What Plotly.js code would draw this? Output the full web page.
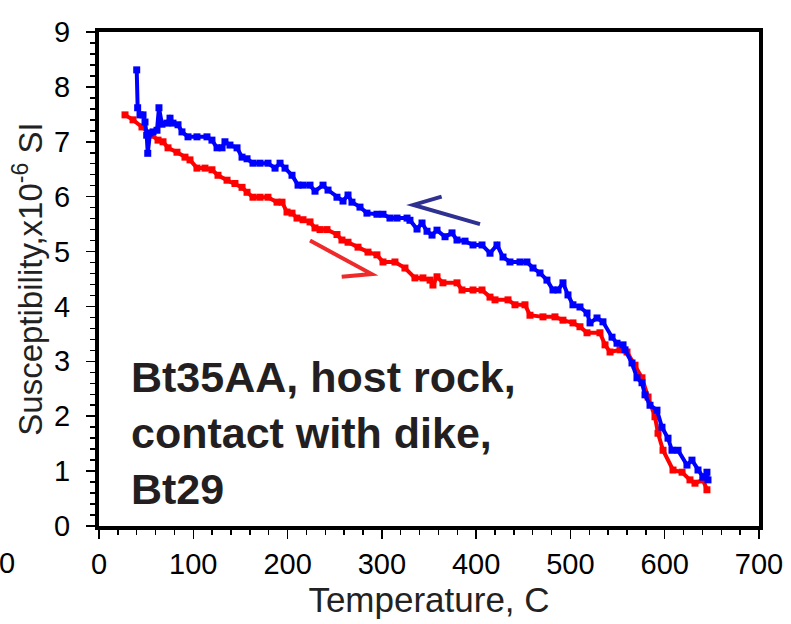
<!DOCTYPE html>
<html>
<head>
<meta charset="utf-8">
<script src="https://cdn.plot.ly/plotly-3.0.1.min.js"></script>
<style>html,body{margin:0;padding:0;background:#fff;}#chart{width:791px;height:624px;}</style>
</head>
<body>
<div id="chart"></div>
<script>
// Heating curve (red)
const heatT = [27.6,36.1,45.6,56.2,62.6,67.9,73.2,82.7,91.2,96.5,103.9,112.4,119.8,126.2,135.8,144.2,151.7,157.0,163.3,170.8,179.2,188.8,194.1,199.4,204.7,210.0,216.4,223.8,229.1,234.4,241.8,252.4,257.7,264.1,274.7,285.3,294.8,301.2,313.9,324.5,335.1,343.6,351.1,354.2,358.5,364.8,379.7,385.0,396.7,406.2,414.7,420.0,433.8,441.2,451.8,457.1,470.9,483.6,492.1,502.7,510.1,517.6,531.3,536.7,542.0,552.6,560.0,568.5,575.9,582.3,589.7,592.9,598.2,608.8,618.4,626.8,632.1,640.6,644.8];
const heatS = [7.49,7.40,7.27,7.12,7.03,7.00,6.89,6.81,6.72,6.67,6.52,6.52,6.49,6.39,6.30,6.24,6.17,6.08,5.99,5.99,5.99,5.90,5.90,5.72,5.70,5.61,5.58,5.54,5.43,5.40,5.40,5.31,5.21,5.17,5.08,4.99,4.94,4.81,4.81,4.70,4.52,4.52,4.48,4.39,4.54,4.43,4.43,4.30,4.30,4.30,4.17,4.12,4.12,4.03,4.03,3.84,3.81,3.81,3.75,3.70,3.63,3.52,3.52,3.30,3.17,3.21,3.17,2.93,2.70,2.35,1.99,1.69,1.38,1.02,0.98,0.84,0.78,0.84,0.66];
// Cooling curve (blue)
const coolT = [40.0,41.0,43.5,46.7,48.8,50.6,51.7,54.1,57.3,61.5,63.6,66.8,72.1,75.3,78.5,83.8,88.0,94.4,103.9,114.5,119.8,125.2,130.5,133.6,138.9,146.4,151.7,157.0,163.3,170.8,179.2,186.7,192.0,197.3,204.7,211.1,216.4,223.8,229.1,237.6,242.9,252.4,258.8,264.1,268.3,276.8,284.2,294.8,301.2,308.6,316.1,326.7,329.8,337.3,342.6,347.9,353.2,358.5,367.0,374.4,379.7,388.2,396.7,406.2,414.7,422.1,428.5,435.9,446.5,453.9,460.3,467.7,475.1,481.5,486.8,492.1,497.4,502.7,510.1,517.6,520.8,528.2,534.5,544.1,549.4,555.8,557.9,565.3,570.6,575.9,579.1,584.4,591.8,597.1,603.5,607.7,614.1,623.6,628.9,635.3,640.6,644.8,645.9];
const coolS = [8.31,7.62,7.49,7.49,7.36,7.12,6.79,7.16,7.18,7.21,7.62,7.32,7.34,7.43,7.34,7.31,7.18,7.09,7.09,7.09,7.03,6.89,6.89,7.00,6.94,6.89,6.72,6.69,6.61,6.61,6.61,6.52,6.61,6.52,6.39,6.21,6.21,6.21,6.10,6.21,6.12,5.99,5.92,6.03,5.90,5.81,5.70,5.68,5.68,5.61,5.61,5.61,5.57,5.41,5.52,5.37,5.30,5.39,5.27,5.34,5.21,5.19,5.12,5.12,4.97,5.12,4.90,4.81,4.81,4.81,4.70,4.61,4.48,4.30,4.30,4.43,4.21,4.03,3.99,3.88,3.70,3.79,3.72,3.44,3.33,3.30,3.21,2.97,2.70,2.61,2.39,2.20,2.11,1.80,1.60,1.38,1.38,1.11,1.20,1.02,0.89,0.98,0.84];

const xTickVals = [0,100,200,300,400,500,600,700];
const yTickVals = [0,1,2,3,4,5,6,7,8,9];

const FONT = "'Liberation Sans', Arial, sans-serif";

const traces = [
  {x: heatT, y: heatS, mode: 'lines+markers', type: 'scatter', name: 'heating',
   line: {color: '#FF0000', width: 4}, marker: {symbol: 'square', size: 7, color: '#FF0000'}},
  {x: coolT, y: coolS, mode: 'lines+markers', type: 'scatter', name: 'cooling',
   line: {color: '#0000FF', width: 4}, marker: {symbol: 'square', size: 7, color: '#0000FF'}}
];

const axisCommon = {
  showgrid: false, zeroline: false, showline: true, linecolor: '#000', linewidth: 4, mirror: true,
  ticks: 'outside', tickcolor: '#000', tickwidth: 1.5, ticklen: 9,
  tickfont: {family: FONT, size: 29, color: '#000'}
};

const layout = {
  width: 791, height: 624,
  margin: {l: 99, r: 32, t: 32, b: 98},
  paper_bgcolor: '#fff', plot_bgcolor: '#fff',
  showlegend: false,
  font: {family: FONT},
  xaxis: Object.assign({}, axisCommon, {
    range: [0, 700], tickvals: xTickVals, ticktext: xTickVals.map(String),
    minor: {dtick: 20, ticks: 'outside', ticklen: 5, tickcolor: '#000', tickwidth: 1.5},
    ticklabelstandoff: 0,
    title: {text: 'Temperature, C', font: {family: FONT, size: 35, color: '#222'}, standoff: 10}
  }),
  yaxis: Object.assign({}, axisCommon, {
    range: [0, 9], tickvals: yTickVals, ticktext: yTickVals.map(String),
    minor: {dtick: 0.2, ticks: 'outside', ticklen: 5, tickcolor: '#000', tickwidth: 1.5},
    ticklabelstandoff: 10,
    title: {text: 'Susceptibility,x10<sup>-6</sup> SI', font: {family: FONT, size: 33, color: '#222'}, standoff: 3}
  }),
  shapes: [
    {type: 'path', xref: 'x', yref: 'y', path: 'M 363.4 6.00 L 333.4 5.85 L 404.1 5.50',
     line: {color: '#2E3192', width: 4}},
    {type: 'path', xref: 'x', yref: 'y', path: 'M 223.8 5.20 L 289.2 4.59 L 257.4 4.54',
     line: {color: '#EE2A2A', width: 4}}
  ],
  annotations: [
    {xref: 'paper', yref: 'paper', x: 0.045, y: 0.355, xanchor: 'left', yanchor: 'top', align: 'left',
     showarrow: false, text: '<b>Bt35AA, host rock,<br>contact with dike,<br>Bt29</b>',
     font: {family: FONT, size: 43, color: '#231F20'}},
    {xref: 'paper', yref: 'paper', x: -0.139, y: -0.075, xanchor: 'center', yanchor: 'middle',
     showarrow: false, text: '0', font: {family: FONT, size: 29, color: '#000'}}
  ]
};

Plotly.newPlot('chart', traces, layout, {displayModeBar: false, staticPlot: true});
</script>
</body>
</html>
